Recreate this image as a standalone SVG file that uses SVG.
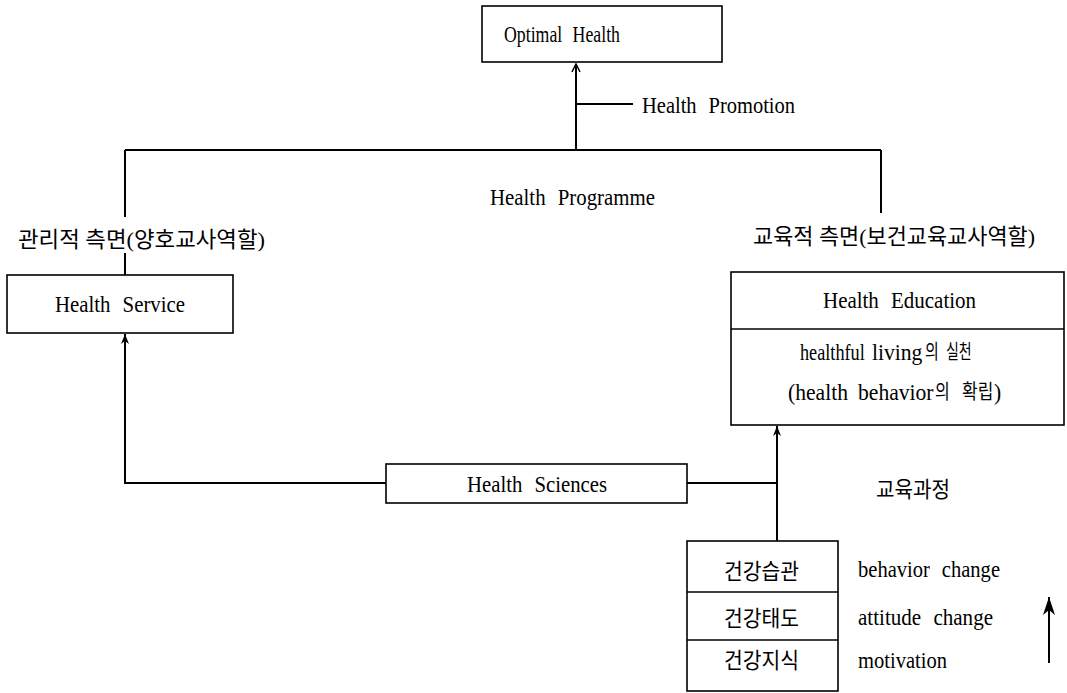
<svg xmlns="http://www.w3.org/2000/svg" width="1067" height="693" viewBox="0 0 1067 693">
<style>
.box{fill:#fff;stroke:#000;stroke-width:1.6}
.ln{fill:none;stroke:#000;stroke-width:2}
.t{font-family:"Liberation Serif","Noto Sans CJK KR",serif;font-size:24px;fill:#000;word-spacing:8px}
.k{font-family:"Liberation Serif","Noto Sans CJK KR",serif;font-size:22px;fill:#000}
.m{font-family:"Noto Sans CJK KR","Liberation Serif",sans-serif;font-size:20px;fill:#000}
</style>
<defs>
<marker id="open" markerUnits="userSpaceOnUse" markerWidth="10" markerHeight="10" viewBox="0 0 10 10" refX="9" refY="5" orient="auto">
<path d="M1,1 L9,5 L1,9" fill="none" stroke="#000" stroke-width="1.5"/>
</marker>
<marker id="sm" markerUnits="userSpaceOnUse" markerWidth="10" markerHeight="10" viewBox="0 0 10 10" refX="10" refY="5" orient="auto">
<path d="M0,1 L10,5 L0,9 L3,5 Z" fill="#000"/>
</marker>
<marker id="big" markerUnits="userSpaceOnUse" markerWidth="18" markerHeight="12" viewBox="0 0 18 12" refX="18" refY="6" orient="auto">
<path d="M0,0 L18,6 L0,12 L5,6 Z" fill="#000"/>
</marker>
</defs>

<g id="connectors">
<line class="ln" x1="576" y1="150" x2="576" y2="64" marker-end="url(#open)"/>
<line class="ln" x1="576" y1="104" x2="633" y2="104"/>
<line class="ln" x1="125" y1="150" x2="881" y2="150"/>
<line class="ln" x1="125" y1="150" x2="125" y2="217"/>
<line class="ln" x1="125" y1="253" x2="125" y2="275"/>
<line class="ln" x1="881" y1="150" x2="881" y2="213"/>
<polyline class="ln" points="386,483 125,483 125,334" marker-end="url(#sm)"/>
<line class="ln" x1="687" y1="483" x2="777" y2="483"/>
<line class="ln" x1="777" y1="541" x2="777" y2="426" marker-end="url(#sm)"/>
<line class="ln" x1="1049" y1="663" x2="1049" y2="597" marker-end="url(#big)"/>
</g>

<g id="optimal-health">
<rect class="box" x="482" y="6" width="240" height="56"/>
<text class="t" x="504" y="42" textLength="116" lengthAdjust="spacingAndGlyphs">Optimal Health</text>
</g>

<g id="health-promotion">
<text class="t" x="642" y="113" textLength="153" lengthAdjust="spacingAndGlyphs">Health Promotion</text>
</g>

<g id="health-programme">
<text class="t" x="490" y="205" textLength="165" lengthAdjust="spacingAndGlyphs">Health Programme</text>
</g>

<g id="label-admin">
<text class="k" x="18" y="247" textLength="247" lengthAdjust="spacingAndGlyphs">관리적 측면(양호교사역할)</text>
</g>

<g id="label-edu">
<text class="k" x="753" y="244" textLength="282" lengthAdjust="spacingAndGlyphs">교육적 측면(보건교육교사역할)</text>
</g>

<g id="health-service">
<rect class="box" x="7" y="275" width="226" height="58"/>
<text class="t" x="55" y="312" textLength="130" lengthAdjust="spacingAndGlyphs">Health Service</text>
</g>

<g id="health-education">
<rect class="box" x="731" y="272" width="333" height="153"/>
<line class="box" x1="731" y1="329" x2="1064" y2="329"/>
<text class="t" x="823" y="308" textLength="153" lengthAdjust="spacingAndGlyphs">Health Education</text>
<text class="t" transform="translate(800,360) scale(0.76,1)">healthful</text>
<text class="t" transform="translate(872,360) scale(0.9,1)">living</text>
<text class="m" transform="translate(925,359) scale(0.75,1)">의</text>
<text class="m" transform="translate(946,359) scale(0.7,1)">실천</text>
<text class="t" transform="translate(788,400) scale(0.9,1)">(health</text>
<text class="t" transform="translate(858,400) scale(0.9,1)">behavior</text>
<text class="m" transform="translate(935,399) scale(0.8,1)">의</text>
<text class="m" transform="translate(962,399) scale(0.85,1)">확립</text>
<text class="t" transform="translate(994,400) scale(0.9,1)">)</text>
</g>

<g id="health-sciences">
<rect class="box" x="386" y="464" width="301" height="39"/>
<text class="t" x="467" y="492" textLength="140" lengthAdjust="spacingAndGlyphs">Health Sciences</text>
</g>

<g id="curriculum-label">
<text class="k" x="876" y="497" textLength="74" lengthAdjust="spacingAndGlyphs">교육과정</text>
</g>

<g id="stack">
<rect class="box" x="687" y="541" width="151" height="150"/>
<line class="box" x1="687" y1="592" x2="838" y2="592"/>
<line class="box" x1="687" y1="640" x2="838" y2="640"/>
<text class="k" x="724" y="579" textLength="75" lengthAdjust="spacingAndGlyphs">건강습관</text>
<text class="k" x="724" y="626" textLength="75" lengthAdjust="spacingAndGlyphs">건강태도</text>
<text class="k" x="724" y="668" textLength="75" lengthAdjust="spacingAndGlyphs">건강지식</text>
</g>

<g id="stage-labels">
<text class="t" x="858" y="577" textLength="142" lengthAdjust="spacingAndGlyphs">behavior change</text>
<text class="t" x="858" y="625" textLength="135" lengthAdjust="spacingAndGlyphs">attitude change</text>
<text class="t" x="858" y="668" textLength="89" lengthAdjust="spacingAndGlyphs">motivation</text>
</g>
</svg>
